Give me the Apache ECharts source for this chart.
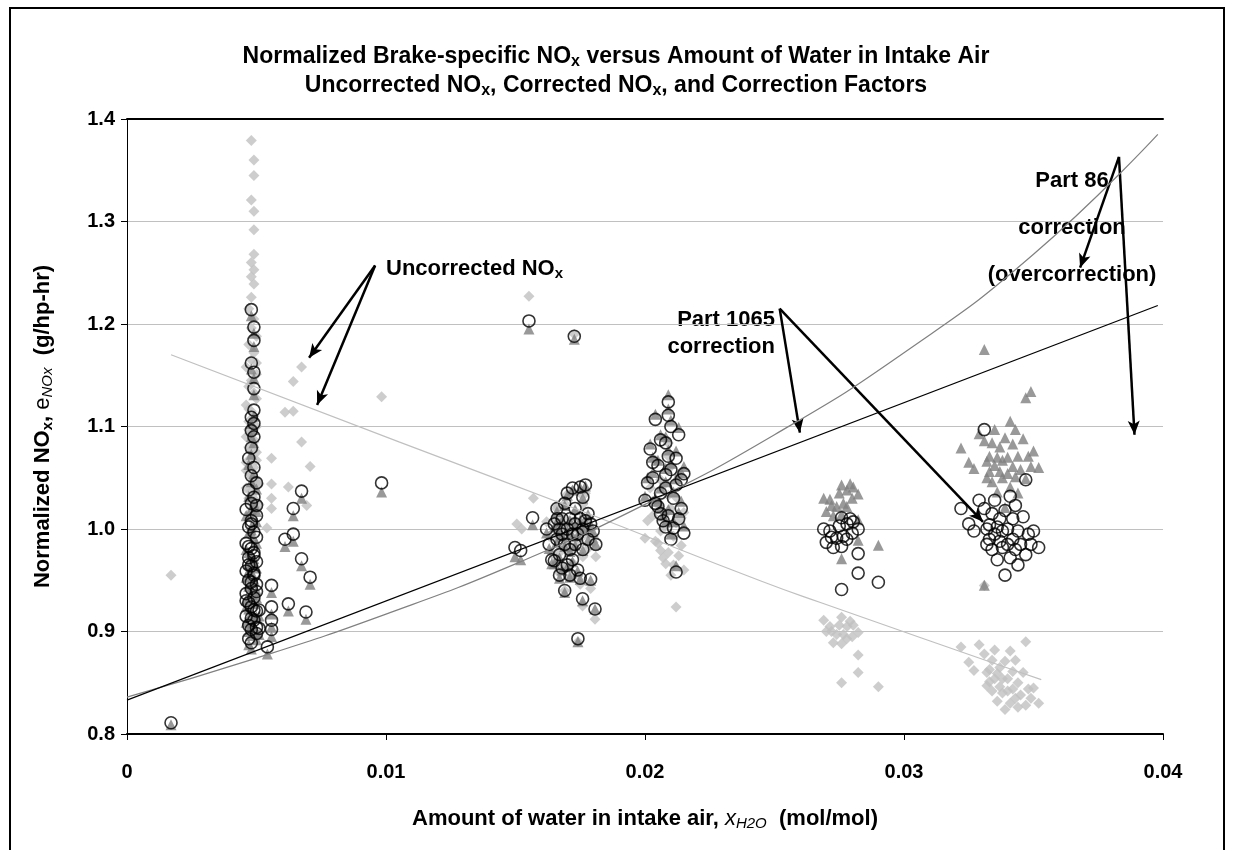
<!DOCTYPE html>
<html>
<head>
<meta charset="utf-8">
<script src="https://cdn.jsdelivr.net/npm/echarts@6/dist/echarts.min.js"></script>
<style>
  html, body { margin: 0; padding: 0; background: #fff; }
  #main { width: 1233px; height: 850px; }
</style>
</head>
<body>
<div id="main"></div>
<script>
// uncorrected NOx (grey diamonds)  [x_H2O, normalized NOx]
var uncorrected = [
  [0.0017,0.955],
  [0.0048,1.379],[0.0049,1.360],[0.0049,1.345],[0.0048,1.321],[0.0049,1.310],[0.0049,1.292],[0.0049,1.268],[0.0048,1.260],
  [0.0049,1.253],[0.0048,1.246],[0.0049,1.239],[0.0048,1.226],[0.0047,1.215],[0.0049,1.205],[0.0048,1.196],[0.0050,1.188],
  [0.0047,1.180],[0.0049,1.172],[0.0048,1.165],[0.0046,1.158],[0.0050,1.151],[0.0048,1.145],[0.0047,1.139],[0.0049,1.133],
  [0.0050,1.127],[0.0046,1.121],[0.0048,1.115],[0.0049,1.110],[0.0047,1.105],[0.0050,1.100],[0.0048,1.095],[0.0046,1.090],
  [0.0049,1.085],[0.0047,1.080],[0.0050,1.075],[0.0048,1.070],[0.0046,1.065],[0.0049,1.060],[0.0047,1.055],[0.0048,1.050],
  [0.0050,1.045],[0.0046,1.040],[0.0049,1.035],[0.0047,1.030],[0.0048,1.025],[0.0050,1.020],[0.0047,1.015],[0.0048,1.010],
  [0.0047,1.097],[0.0049,1.087],[0.0048,1.077],[0.0050,1.067],[0.0046,1.057],[0.0049,1.047],[0.0048,1.037],[0.0050,1.027],
  [0.0047,1.117],[0.0049,1.107],[0.0048,1.142],[0.0050,1.162],[0.0051,1.044],[0.0051,1.024],
  [0.00674,1.158],[0.00642,1.144],[0.0061,1.114],[0.00642,1.115],[0.00983,1.129],[0.00674,1.085],[0.00707,1.061],
  [0.00558,1.069],[0.00558,1.044],[0.00623,1.041],[0.00558,1.030],[0.00558,1.020],[0.00694,1.023],[0.0054,1.001],
  [0.01552,1.227],[0.01727,1.190],[0.01569,1.030],[0.01659,1.020],[0.01505,1.005],[0.01524,1.000],
  [0.01741,0.890],[0.01807,0.912],[0.01759,0.925],
  [0.0162,1.007],[0.0163,0.993],[0.0164,0.976],[0.0165,0.973],[0.0165,1.009],[0.0166,0.993],[0.0166,1.023],[0.0167,0.957],
  [0.0167,0.977],[0.0167,1.002],[0.0168,0.963],[0.0168,0.996],[0.0168,1.011],[0.0169,0.985],[0.0169,1.025],[0.0169,0.940],
  [0.0170,0.999],[0.0170,0.964],[0.0170,1.034],[0.0171,0.978],[0.0171,1.008],[0.0171,0.953],[0.0172,0.992],[0.0172,1.037],
  [0.0172,0.967],[0.0173,1.001],[0.0173,0.981],[0.0173,1.016],[0.0174,0.990],[0.0174,0.955],[0.0175,1.035],[0.0175,1.004],
  [0.0175,0.946],[0.0176,1.024],[0.0176,0.993],[0.0176,0.973],[0.0177,1.035],[0.0177,1.000],[0.0178,0.981],[0.0178,1.006],
  [0.0179,0.942],[0.0179,0.995],[0.0180,0.987],[0.0181,0.973],
  [0.0209,1.084],[0.0204,1.067],[0.0209,1.071],[0.0210,1.061],[0.0213,1.053],[0.0206,1.048],[0.0208,1.045],[0.0202,1.040],
  [0.0209,1.033],[0.0212,1.031],[0.0205,1.024],[0.0208,1.015],[0.0215,1.016],[0.0214,1.011],[0.0210,1.020],[0.0203,1.013],
  [0.0208,1.003],[0.0212,1.006],[0.0206,0.998],[0.0204,0.988],[0.0205,0.986],[0.0211,0.993],[0.0214,0.984],[0.0209,0.977],
  [0.0207,0.972],[0.0213,0.974],[0.0208,0.966],[0.0211,0.965],[0.0215,0.960],[0.0206,0.979],[0.0210,0.955],[0.0212,0.924],
  [0.0200,0.991],[0.0201,1.008],[0.0203,1.027],
  [0.02759,0.914],[0.02792,0.910],[0.02804,0.906],[0.02823,0.899],[0.02714,0.905],[0.02740,0.897],[0.02766,0.897],
  [0.02779,0.893],[0.02727,0.889],[0.02759,0.888],[0.02823,0.877],[0.02823,0.860],[0.02759,0.850],[0.02901,0.846],
  [0.02750,0.906],[0.02780,0.905],[0.02720,0.900],[0.02800,0.895],[0.02690,0.911],[0.02700,0.900],
  [0.0322,0.885],[0.0325,0.870],[0.0327,0.862],[0.0329,0.887],[0.0331,0.945],[0.0331,0.878],[0.0332,0.860],[0.0332,0.847],
  [0.0333,0.863],[0.0333,0.851],[0.0334,0.872],[0.0334,0.842],[0.0335,0.882],[0.0335,0.854],[0.0336,0.859],[0.0336,0.832],
  [0.0337,0.846],[0.0337,0.865],[0.0338,0.854],[0.0338,0.840],[0.0339,0.871],[0.0339,0.824],[0.0340,0.842],[0.0340,0.854],
  [0.0341,0.881],[0.0341,0.830],[0.0342,0.844],[0.0342,0.861],[0.0343,0.835],[0.0343,0.872],[0.0344,0.826],[0.0344,0.850],
  [0.0345,0.838],[0.0346,0.860],[0.0347,0.890],[0.0347,0.828],[0.0348,0.844],[0.0349,0.835],[0.0350,0.845],[0.0352,0.830]
];

// Part 86 corrected NOx (dark grey triangles)
var part86 = [
  [0.0017,0.811],
  [0.0048,1.210],[0.0049,1.193],[0.0049,1.180],[0.0048,1.158],[0.0049,1.149],[0.0049,1.133],[0.0049,1.112],[0.0048,1.105],
  [0.0049,1.099],[0.0048,1.092],[0.0049,1.086],[0.0048,1.075],[0.0047,1.065],[0.0049,1.056],[0.0048,1.048],[0.0050,1.041],
  [0.0047,1.034],[0.0049,1.027],[0.0048,1.021],[0.0046,1.015],[0.0050,1.009],[0.0048,1.004],[0.0047,0.998],[0.0049,0.993],
  [0.0050,0.988],[0.0046,0.982],[0.0048,0.977],[0.0049,0.973],[0.0047,0.968],[0.0050,0.964],[0.0048,0.960],[0.0046,0.955],
  [0.0049,0.951],[0.0047,0.946],[0.0050,0.942],[0.0048,0.938],[0.0046,0.933],[0.0049,0.929],[0.0047,0.924],[0.0048,0.920],
  [0.0050,0.916],[0.0046,0.911],[0.0049,0.907],[0.0047,0.902],[0.0048,0.898],[0.0050,0.894],[0.0047,0.889],[0.0048,0.885],
  [0.0047,0.961],[0.0049,0.953],[0.0048,0.944],[0.0050,0.935],[0.0046,0.926],[0.0049,0.917],[0.0048,0.909],[0.0050,0.900],
  [0.0047,0.979],[0.0049,0.970],[0.0048,1.001],[0.0050,1.019],[0.0051,0.917],[0.0051,0.899],
  [0.00674,1.032],[0.00642,1.015],[0.0061,0.985],[0.00642,0.990],[0.00983,1.038],[0.00674,0.966],[0.00707,0.948],
  [0.00558,0.940],[0.00558,0.919],[0.00623,0.922],[0.00558,0.906],[0.00558,0.897],[0.00691,0.914],[0.00542,0.880],
  [0.01552,1.197],[0.01727,1.187],[0.01566,1.006],[0.01661,1.009],[0.01498,0.975],[0.0152,0.972],
  [0.01741,0.892],[0.01807,0.924],[0.01759,0.932],
  [0.0162,0.998],[0.0163,0.983],[0.0164,0.968],[0.0165,0.968],[0.0165,1.004],[0.0166,0.989],[0.0166,1.019],[0.0167,0.954],
  [0.0167,0.974],[0.0167,0.999],[0.0168,0.962],[0.0168,0.995],[0.0168,1.010],[0.0169,0.985],[0.0169,1.025],[0.0169,0.940],
  [0.0170,1.000],[0.0170,0.965],[0.0170,1.035],[0.0171,0.980],[0.0171,1.010],[0.0171,0.955],[0.0172,0.995],[0.0172,1.040],
  [0.0172,0.970],[0.0173,1.005],[0.0173,0.986],[0.0173,1.021],[0.0174,0.996],[0.0174,0.961],[0.0175,1.042],[0.0175,1.011],
  [0.0175,0.953],[0.0176,1.032],[0.0176,1.001],[0.0176,0.981],[0.0177,1.044],[0.0177,1.009],[0.0178,0.991],[0.0178,1.016],
  [0.0179,0.952],[0.0179,1.006],[0.0180,0.999],[0.0181,0.987],
  [0.0209,1.133],[0.0204,1.114],[0.0209,1.119],[0.0210,1.108],[0.0213,1.101],[0.0206,1.094],[0.0208,1.092],[0.0202,1.085],
  [0.0209,1.079],[0.0212,1.078],[0.0205,1.069],[0.0208,1.061],[0.0215,1.063],[0.0214,1.057],[0.0210,1.066],[0.0203,1.057],
  [0.0208,1.048],[0.0212,1.051],[0.0206,1.042],[0.0204,1.032],[0.0205,1.029],[0.0211,1.038],[0.0214,1.029],[0.0209,1.021],
  [0.0207,1.015],[0.0213,1.018],[0.0208,1.009],[0.0211,1.009],[0.0215,1.005],[0.0206,1.022],[0.0210,0.997],[0.0212,0.966],
  [0.0200,1.034],[0.0201,1.052],[0.0203,1.072],
  [0.02759,1.045],[0.02792,1.046],[0.02804,1.043],[0.02823,1.036],[0.02714,1.031],[0.02740,1.024],[0.02766,1.027],
  [0.02779,1.024],[0.02727,1.015],[0.02759,1.016],[0.02823,1.011],[0.02823,0.991],[0.02759,0.973],[0.02901,0.986],
  [0.02750,1.037],[0.02780,1.040],[0.02720,1.025],[0.02800,1.032],[0.02690,1.032],[0.02700,1.019],
  [0.0322,1.081],[0.0325,1.067],[0.0327,1.061],[0.0329,1.095],[0.0331,1.177],[0.0331,1.088],[0.0332,1.068],[0.0332,1.052],
  [0.0333,1.073],[0.0333,1.058],[0.0334,1.086],[0.0334,1.048],[0.0335,1.099],[0.0335,1.064],[0.0336,1.072],[0.0336,1.038],
  [0.0337,1.058],[0.0337,1.082],[0.0338,1.069],[0.0338,1.052],[0.0339,1.091],[0.0339,1.023],[0.0340,1.056],[0.0340,1.072],
  [0.0341,1.107],[0.0341,1.043],[0.0342,1.063],[0.0342,1.085],[0.0343,1.053],[0.0343,1.099],[0.0344,1.037],[0.0344,1.073],
  [0.0345,1.060],[0.0346,1.090],[0.0347,1.130],[0.0347,1.051],[0.0348,1.073],[0.0349,1.063],[0.0350,1.078],[0.0352,1.062],
  [0.0349,1.136],[0.0331,0.947]
];

// Part 1065 corrected NOx (open circles)
var part1065 = [
  [0.0017,0.811],
  [0.0048,1.214],[0.0049,1.197],[0.0049,1.184],[0.0048,1.162],[0.0049,1.153],[0.0049,1.137],[0.0049,1.116],[0.0048,1.109],
  [0.0049,1.103],[0.0048,1.096],[0.0049,1.090],[0.0048,1.079],[0.0047,1.069],[0.0049,1.060],[0.0048,1.052],[0.0050,1.045],
  [0.0047,1.038],[0.0049,1.031],[0.0048,1.025],[0.0046,1.019],[0.0050,1.013],[0.0048,1.008],[0.0047,1.002],[0.0049,0.997],
  [0.0050,0.992],[0.0046,0.986],[0.0048,0.981],[0.0049,0.977],[0.0047,0.972],[0.0050,0.968],[0.0048,0.964],[0.0046,0.959],
  [0.0049,0.955],[0.0047,0.950],[0.0050,0.946],[0.0048,0.942],[0.0046,0.937],[0.0049,0.933],[0.0047,0.928],[0.0048,0.924],
  [0.0050,0.920],[0.0046,0.915],[0.0049,0.911],[0.0047,0.906],[0.0048,0.902],[0.0050,0.898],[0.0047,0.893],[0.0048,0.889],
  [0.0047,0.965],[0.0049,0.957],[0.0048,0.948],[0.0050,0.939],[0.0046,0.930],[0.0049,0.921],[0.0048,0.913],[0.0050,0.904],
  [0.0047,0.983],[0.0049,0.974],[0.0048,1.005],[0.0050,1.023],[0.0051,0.921],[0.0051,0.903],
  [0.00674,1.037],[0.00642,1.020],[0.0061,0.990],[0.00642,0.995],[0.00983,1.045],[0.00674,0.971],[0.00707,0.953],
  [0.00558,0.945],[0.00558,0.924],[0.00623,0.927],[0.00558,0.911],[0.00558,0.902],[0.00691,0.919],[0.00542,0.885],
  [0.01552,1.203],[0.01727,1.188],[0.01566,1.011],[0.01661,1.010],[0.01498,0.982],[0.0152,0.979],
  [0.01741,0.893],[0.01807,0.922],[0.01759,0.932],
  [0.0162,1.000],[0.0163,0.985],[0.0164,0.970],[0.0165,0.969],[0.0165,1.005],[0.0166,0.990],[0.0166,1.020],[0.0167,0.955],
  [0.0167,0.975],[0.0167,1.000],[0.0168,0.962],[0.0168,0.995],[0.0168,1.010],[0.0169,0.985],[0.0169,1.025],[0.0169,0.940],
  [0.0170,1.000],[0.0170,0.965],[0.0170,1.035],[0.0171,0.980],[0.0171,1.010],[0.0171,0.955],[0.0172,0.995],[0.0172,1.040],
  [0.0172,0.970],[0.0173,1.005],[0.0173,0.985],[0.0173,1.020],[0.0174,0.995],[0.0174,0.960],[0.0175,1.041],[0.0175,1.010],
  [0.0175,0.952],[0.0176,1.031],[0.0176,1.000],[0.0176,0.980],[0.0177,1.043],[0.0177,1.008],[0.0178,0.990],[0.0178,1.015],
  [0.0179,0.951],[0.0179,1.005],[0.0180,0.998],[0.0181,0.985],
  [0.0209,1.124],[0.0204,1.107],[0.0209,1.111],[0.0210,1.100],[0.0213,1.092],[0.0206,1.087],[0.0208,1.084],[0.0202,1.078],
  [0.0209,1.071],[0.0212,1.069],[0.0205,1.062],[0.0208,1.053],[0.0215,1.054],[0.0214,1.048],[0.0210,1.058],[0.0203,1.050],
  [0.0208,1.040],[0.0212,1.043],[0.0206,1.035],[0.0204,1.025],[0.0205,1.022],[0.0211,1.030],[0.0214,1.020],[0.0209,1.013],
  [0.0207,1.008],[0.0213,1.010],[0.0208,1.002],[0.0211,1.001],[0.0215,0.996],[0.0206,1.015],[0.0210,0.990],[0.0212,0.958],
  [0.0200,1.028],[0.0201,1.045],[0.0203,1.065],
  [0.02759,1.011],[0.02792,1.010],[0.02804,1.007],[0.02823,1.000],[0.02714,0.998],[0.02740,0.991],[0.02766,0.993],
  [0.02779,0.990],[0.02727,0.982],[0.02759,0.983],[0.02823,0.976],[0.02823,0.957],[0.02759,0.941],[0.02901,0.948],
  [0.02750,1.003],[0.02780,1.005],[0.02720,0.992],[0.02800,0.996],[0.02690,1.000],[0.02700,0.987],
  [0.0322,1.020],[0.0325,1.005],[0.0327,0.998],[0.0329,1.028],[0.0331,1.097],[0.0331,1.020],[0.0332,1.000],[0.0332,0.985],
  [0.0333,1.004],[0.0333,0.990],[0.0334,1.015],[0.0334,0.980],[0.0335,1.028],[0.0335,0.995],[0.0336,1.002],[0.0336,0.970],
  [0.0337,0.988],[0.0337,1.010],[0.0338,0.998],[0.0338,0.982],[0.0339,1.018],[0.0339,0.955],[0.0340,0.985],[0.0340,1.000],
  [0.0341,1.032],[0.0341,0.972],[0.0342,0.990],[0.0342,1.010],[0.0343,0.980],[0.0343,1.023],[0.0344,0.965],[0.0344,0.998],
  [0.0345,0.985],[0.0346,1.012],[0.0347,1.048],[0.0347,0.975],[0.0348,0.995],[0.0349,0.985],[0.0350,0.998],[0.0352,0.982]
];

// trend of uncorrected NOx and the two correction curves
var fitUncorrected = [[0.0017,1.170],[0.0105,1.085],[0.0175,1.018],[0.0245,0.949],[0.0268,0.928],[0.0345,0.860],[0.0353,0.853]];
var curvePart86 = [[0,0.836],[0.005,0.874],[0.01,0.917],[0.015,0.966],[0.02,1.024],[0.025,1.092],[0.03,1.172],[0.035,1.268],[0.0398,1.385]];
var linePart1065 = [[0,0.833],[0.0398,1.218]];

// annotation arrows: [start, tip] in data units
var arrowsUncorr = [[[0.00958,1.257],[0.00703,1.167]],[[0.00958,1.257],[0.00734,1.121]]];
var arrows1065 = [[[0.0252,1.215],[0.02598,1.094]],[[0.0252,1.215],[0.03305,1.007]]];
var arrows86 = [[[0.0383,1.363],[0.0368,1.255]],[[0.0383,1.363],[0.0389,1.092]]];

var xTicks = [0, 0.01, 0.02, 0.03, 0.04];

var chart = echarts.init(document.getElementById('main'));
var font = 'Arial, "Liberation Sans", sans-serif';

function arrowLines(list) {
  return list.map(function (a) {
    return [{ coord: a[0] }, { coord: a[1] }];
  });
}

function subText(main, sub, size) {
  return {
    t: { fontSize: size, fontWeight: 'bold', fill: '#000', fontFamily: font },
    s: { fontSize: Math.round(size * 0.7), fontWeight: 'bold', fill: '#000', fontFamily: font, verticalAlign: 'bottom', padding: [Math.round(size * 0.45), 0, 0, 0] }
  };
}

chart.setOption({
  backgroundColor: '#fff',
  animation: false,
  textStyle: { fontFamily: font },
  grid: { left: 127, right: 70, top: 119, bottom: 116 },
  xAxis: [{
    type: 'value', min: 0, max: 0.04, interval: 0.01,
    axisLine: { lineStyle: { color: '#000', width: 2 } },
    axisTick: { show: true, length: 6, lineStyle: { color: '#000' } },
    axisLabel: {
      color: '#000', fontSize: 20, fontWeight: 'bold', margin: 28,
      formatter: function (v) { return xTicks.indexOf(v) >= 0 ? String(v) : ''; }
    },
    splitLine: { show: false },
    name: '{b|Amount of water in intake air, }{i|x}{s|H2O}{b|  (mol/mol)}',
    nameLocation: 'middle', nameGap: 72,
    nameTextStyle: {
      rich: {
        b: { fontSize: 22, fontWeight: 'bold', color: '#000', fontFamily: font },
        i: { fontSize: 22, fontStyle: 'italic', color: '#000', fontFamily: font },
        s: { fontSize: 15, fontStyle: 'italic', color: '#000', fontFamily: font, verticalAlign: 'bottom', padding: [10, 0, 0, 0] }
      }
    }
  }, {
    type: 'value', min: 0, max: 0.04, position: 'top',
    axisLine: { show: true, lineStyle: { color: '#000', width: 2 } },
    axisTick: { show: false }, axisLabel: { show: false }, splitLine: { show: false }
  }],
  yAxis: {
    type: 'value', min: 0.8, max: 1.4, interval: 0.1,
    axisLine: { show: true, lineStyle: { color: '#000', width: 1 } },
    axisTick: { show: true, length: 6, lineStyle: { color: '#000' } },
    axisLabel: {
      color: '#000', fontSize: 20, fontWeight: 'bold', margin: 12,
      formatter: function (v) { return v.toFixed(1); }
    },
    splitLine: { show: true, lineStyle: { color: '#c0c0c0', width: 1 } },
    name: '{b|Normalized NO}{bs|x}{b|, }{i|e}{is|NOx}{b|  (g/hp-hr)}',
    nameLocation: 'middle', nameGap: 72, nameRotate: 90,
    nameTextStyle: {
      rich: {
        b: { fontSize: 22, fontWeight: 'bold', color: '#000', fontFamily: font },
        bs: { fontSize: 15, fontWeight: 'bold', color: '#000', fontFamily: font, verticalAlign: 'bottom', padding: [10, 0, 0, 0] },
        i: { fontSize: 22, color: '#000', fontFamily: font },
        is: { fontSize: 15, fontStyle: 'italic', color: '#000', fontFamily: font, verticalAlign: 'bottom', padding: [10, 0, 0, 0] }
      }
    }
  },
  graphic: [
    { type: 'rect', shape: { x: 10, y: 8, width: 1214, height: 860 }, style: { fill: 'none', stroke: '#000', lineWidth: 2 }, silent: true },
    {
      type: 'text', x: 616, y: 44,
      style: {
        text: '{t|Normalized Brake-specific NO}{s|x}{t| versus Amount of Water in Intake Air}',
        align: 'center', rich: subText('', '', 23)
      }
    },
    {
      type: 'text', x: 616, y: 73,
      style: {
        text: '{t|Uncorrected NO}{s|x}{t|, Corrected NO}{s|x}{t|, and Correction Factors}',
        align: 'center', rich: subText('', '', 23)
      }
    },
    {
      type: 'text', x: 386, y: 256,
      style: { text: '{t|Uncorrected NO}{s|x}', rich: subText('', '', 22) }
    },
    {
      type: 'text', x: 775, y: 306,
      style: { text: 'Part 1065\ncorrection', align: 'right', lineHeight: 27, fontSize: 22, fontWeight: 'bold', fill: '#000', fontFamily: font }
    },
    {
      type: 'text', x: 1072, y: 157,
      style: { text: 'Part 86\ncorrection\n(overcorrection)', align: 'center', lineHeight: 47, fontSize: 22, fontWeight: 'bold', fill: '#000', fontFamily: font }
    }
  ],
  series: [
    {
      name: 'Uncorrected', type: 'scatter', data: uncorrected, symbol: 'diamond', symbolSize: 11,
      itemStyle: { color: '#c0c0c0' }, z: 2
    },
    {
      name: 'Part 86', type: 'scatter', data: part86, symbol: 'triangle', symbolSize: 11, symbolOffset: [0, 2],
      itemStyle: { color: '#808080' }, z: 3
    },
    {
      name: 'Part 1065', type: 'scatter', data: part1065, symbol: 'circle', symbolSize: 12,
      itemStyle: { color: 'rgba(0,0,0,0)', borderColor: '#000', borderWidth: 1.6 }, z: 4
    },
    {
      name: 'Uncorrected trend', type: 'line', data: fitUncorrected, smooth: true, symbol: 'none',
      lineStyle: { color: '#c0c0c0', width: 1.2 }, z: 5
    },
    {
      name: 'Part 86 curve', type: 'line', data: curvePart86, smooth: true, symbol: 'none',
      lineStyle: { color: '#808080', width: 1.2 }, z: 5
    },
    {
      name: 'Part 1065 line', type: 'line', data: linePart1065, symbol: 'none',
      lineStyle: { color: '#000', width: 1.2 }, z: 5,
      markLine: {
        silent: true, symbol: ['none', 'arrow'], symbolSize: [9, 14], label: { show: false },
        lineStyle: { color: '#000', width: 2.5, type: 'solid' },
        data: arrowLines(arrowsUncorr).concat(arrowLines(arrows1065)).concat(arrowLines(arrows86))
      }
    }
  ]
});
</script>
</body>
</html>
